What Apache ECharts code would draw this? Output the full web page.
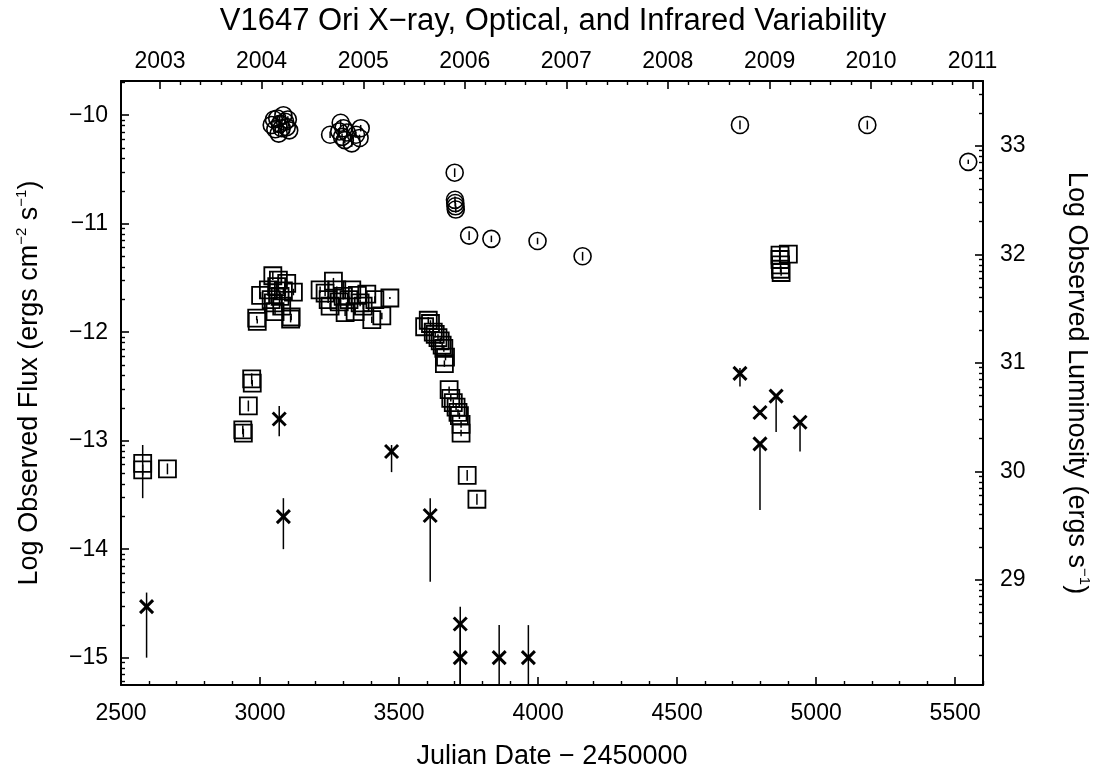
<!DOCTYPE html>
<html><head><meta charset="utf-8">
<script src="https://cdn.jsdelivr.net/npm/echarts@6/dist/echarts.min.js"></script>
<style>html,body{margin:0;padding:0;background:#fff}#c{width:1106px;height:778px}</style>
</head><body><div id="c"></div>
<script>
// ---------------- data ----------------
// Infrared (circles): JD-2450000, log flux, half error
const irJD   = [3042,3050,3055,3062,3067,3072,3078,3084,3090,3096,3100,3105,
                3252,3285,3290,3295,3300,3305,3312,3330,3345,3358,3362,
                3700,3701,3702,3703,3704,3752,3832,3998,4160,
                4726,5184,5547];
const irFlux = [-10.09,-10.04,-10.13,-10.03,-10.17,-10.08,-10.12,-10.00,-10.06,-10.11,-10.04,-10.14,
                -10.18,-10.15,-10.07,-10.20,-10.12,-10.23,-10.16,-10.26,-10.18,-10.21,-10.12,
                -10.53,-10.78,-10.81,-10.84,-10.87,-11.11,-11.14,-11.16,-11.30,
                -10.09,-10.09,-10.43];
const irErr  = [0.03,0.03,0.03,0.03,0.03,0.03,0.03,0.03,0.03,0.03,0.03,0.03,
                0.03,0.03,0.03,0.03,0.03,0.03,0.03,0.03,0.03,0.03,0.03,
                0.04,0.03,0.03,0.03,0.03,0.04,0.03,0.03,0.04,
                0.04,0.04,0.02];

// Optical (squares)
const optJD   = [2578,2578,2667,
                 2938,2940,2958,2970,2972,
                 2988,2990,3002,3030,3040,3046,3048,3054,3060,3066,3072,3078,3084,3096,3110,3112,3120,
                 3216,3234,3245,3252,3264,3276,3285,3299,3306,3320,3330,3342,3350,3360,3371,3384,3402,3413,3438,3467,
                 3592,3605,3613,3623,3630,3640,3648,3655,3661,3667,3663,
                 3680,3686,3695,3705,3712,3717,3723,3723,
                 3745,3780,
                 4870,4870,4872,4872,4874,4900];
const optFlux = [-13.21,-13.27,-13.26,
                 -12.90,-12.93,-12.68,-12.43,-12.47,
                 -11.87,-11.90,-11.66,-11.61,-11.70,-11.48,-11.73,-11.81,-11.58,-11.52,-11.67,-11.76,-11.62,-11.55,-11.88,-11.86,-11.63,
                 -11.61,-11.64,-11.70,-11.76,-11.53,-11.61,-11.72,-11.67,-11.82,-11.70,-11.61,-11.81,-11.66,-11.73,-11.76,-11.65,-11.885,-11.70,-11.85,-11.685,
                 -11.95,-11.89,-11.92,-12.00,-12.02,-12.05,-12.08,-12.12,-12.15,-12.23,-12.29,
                 -12.53,-12.61,-12.65,-12.69,-12.74,-12.77,-12.85,-12.93,
                 -13.32,-13.54,
                 -11.29,-11.33,-11.38,-11.42,-11.45,-11.28];
const optErrLo = [0.32,0.05,0.05,
                 0.04,0.04,0.05,0.05,0.03,
                 0.02,0.02,0.03,0.03,0.03,0.04,0.03,0.03,0.03,0.03,0.03,0.03,0.03,0.03,0.03,0.03,0.03,
                 0.03,0.03,0.03,0.03,0.03,0.03,0.03,0.03,0.03,0.03,0.03,0.03,0.03,0.03,0.03,0.03,0.03,0.03,0.03,0.01,
                 0.03,0.03,0.03,0.03,0.03,0.03,0.03,0.03,0.03,0.03,0.03,
                 0.03,0.03,0.03,0.03,0.03,0.03,0.03,0.03,
                 0.05,0.05,
                 0.03,0.03,0.03,0.03,0.03,0.03];
const optErrHi = [0.17,0.05,0.05,
                 0.04,0.04,0.05,0.05,0.03,
                 0.02,0.02,0.03,0.03,0.03,0.04,0.03,0.03,0.03,0.03,0.03,0.03,0.03,0.03,0.03,0.03,0.03,
                 0.03,0.03,0.03,0.03,0.03,0.03,0.03,0.03,0.03,0.03,0.03,0.03,0.03,0.03,0.03,0.03,0.03,0.03,0.03,0.01,
                 0.03,0.03,0.03,0.03,0.03,0.03,0.03,0.03,0.03,0.03,0.03,
                 0.03,0.03,0.03,0.03,0.03,0.03,0.03,0.03,
                 0.05,0.05,
                 0.03,0.03,0.03,0.03,0.03,0.03];

// X-ray (crosses): value, lower and upper end of the bar
const xrJD   = [2592,3069,3084,3473,3612,3720,3720,3860,3965,4726,4798,4798,4856,4942];
const xrFlux = [-14.53,-12.80,-13.70,-13.10,-13.69,-14.69,-15.00,-15.00,-15.00,-12.38,-12.74,-13.03,-12.59,-12.83];
const xrLo   = [-15.00,-12.96,-14.00,-13.29,-14.30,-15.30,-15.30,-15.30,-15.30,-12.50,-12.76,-13.64,-12.92,-13.10];
const xrHi   = [-14.40,-12.68,-13.53,-13.04,-13.53,-14.53,-14.70,-14.70,-14.70,-12.33,-12.72,-13.03,-12.59,-12.83];

// axes
const jdMin = 2500, jdMax = 5600;
const fluxMin = -15.252, fluxMax = -9.685;
const lumOffset = 43.282;            // log(4 pi d^2), d = 400 pc
const jdTicks   = [2500,3000,3500,4000,4500,5000,5500];
const fluxTicks = [-15,-14,-13,-12,-11,-10];
const lumTicks  = [29,30,31,32,33];
const yearLabels = ['2003','2004','2005','2006','2007','2008','2009','2010','2011'];
const yearJD     = [2640.5,3005.5,3371.5,3736.5,4101.5,4466.5,4832.5,5197.5,5562.5];

// ------------- minor tick positions -------------
const jdMinor = [];
for (let v = jdMin; v <= jdMax; v += 100) if (v % 500 !== 0) jdMinor.push(v);
const yearMinor = [];
for (let i = 0; i < yearJD.length - 1; i++) {
  for (let k = 1; k < 5; k++) yearMinor.push(yearJD[i] + (yearJD[i+1] - yearJD[i]) * k / 5);
}
function logMinor(lo, hi) {
  const out = [];
  for (let n = Math.floor(lo); n <= Math.ceil(hi) + 1; n++) {
    for (let k = 2; k <= 9; k++) {
      const v = n + Math.log10(k) - 1;
      if (v > lo && v < hi) out.push(v);
    }
  }
  return out;
}
const fluxMinor = logMinor(fluxMin, fluxMax);
const lumMinor  = logMinor(fluxMin + lumOffset, fluxMax + lumOffset);

const FONT = 'Liberation Sans, Arial, Helvetica, sans-serif';
const minus = v => (v < 0 ? '\u2212' + Math.abs(v) : String(v));
const plain = v => String(Math.round(v));

const irData  = irJD.map((x, i) => [x, irFlux[i], irFlux[i] - irErr[i], irFlux[i] + irErr[i]]);
const optData = optJD.map((x, i) => [x, optFlux[i], optFlux[i] - optErrLo[i], optFlux[i] + optErrHi[i]]);
const xrData  = xrJD.map((x, i) => [x, xrFlux[i], xrLo[i], xrHi[i]]);

function bar(api) {
  const x = api.value(0);
  const a = api.coord([x, api.value(2)]);
  const b = api.coord([x, api.value(3)]);
  return { type: 'line', shape: { x1: a[0], y1: a[1], x2: b[0], y2: b[1] },
           style: { stroke: '#000', lineWidth: 1.5 } };
}
function renderCircle(params, api) {
  const c = api.coord([api.value(0), api.value(1)]);
  return { type: 'group', children: [
    bar(api),
    { type: 'circle', shape: { cx: c[0], cy: c[1], r: 8.5 }, style: { fill: 'none', stroke: '#000', lineWidth: 1.6 } }
  ]};
}
function renderSquare(params, api) {
  const c = api.coord([api.value(0), api.value(1)]);
  return { type: 'group', children: [
    bar(api),
    { type: 'rect', shape: { x: c[0] - 8.5, y: c[1] - 8.5, width: 17, height: 17 }, style: { fill: 'none', stroke: '#000', lineWidth: 1.8 } }
  ]};
}
function renderCross(params, api) {
  const c = api.coord([api.value(0), api.value(1)]);
  const s = 6.5;
  return { type: 'group', children: [
    bar(api),
    { type: 'line', shape: { x1: c[0] - s, y1: c[1] - s, x2: c[0] + s, y2: c[1] + s }, style: { stroke: '#000', lineWidth: 3 } },
    { type: 'line', shape: { x1: c[0] - s, y1: c[1] + s, x2: c[0] + s, y2: c[1] - s }, style: { stroke: '#000', lineWidth: 3 } }
  ]};
}

const axisLineStyle = { show: true, onZero: false, lineStyle: { color: '#000', width: 2 } };
const noLine = { show: false, onZero: false };
const labelBase = { color: '#000', fontSize: 23, fontFamily: FONT };
const nameStyleBase = { color: '#000', fontSize: 27, fontFamily: FONT, lineHeight: 32,
  rich: { s: { fontSize: 15, lineHeight: 15, verticalAlign: 'top', color: '#000', fontFamily: FONT } } };

function majorTick(vals) { return { show: true, inside: true, length: 8, customValues: vals, lineStyle: { color: '#000', width: 1.6 } }; }
function minorTick(vals) { return { show: true, inside: true, length: 4, customValues: vals, lineStyle: { color: '#000', width: 1.4 } }; }

const chart = echarts.init(document.getElementById('c'), null, { renderer: 'canvas' });
chart.setOption({
  animation: false,
  backgroundColor: '#fff',
  title: {
    text: 'V1647 Ori X\u2212ray, Optical, and Infrared Variability',
    left: 'center', top: 1,
    textStyle: { color: '#000', fontSize: 31, fontWeight: 'normal', fontFamily: FONT }
  },
  grid: { left: 121, right: 123, top: 81, bottom: 93, outerBoundsMode: 'none' },
  xAxis: [
    { type: 'value', position: 'bottom', min: jdMin, max: jdMax,
      axisLine: axisLineStyle, axisTick: majorTick(jdTicks), splitLine: { show: false },
      axisLabel: Object.assign({ customValues: jdTicks, margin: 17, formatter: plain }, labelBase),
      name: 'Julian Date \u2212 2450000', nameLocation: 'middle', nameGap: 58,
      nameTextStyle: { color: '#000', fontSize: 27, fontFamily: FONT } },
    { type: 'value', position: 'bottom', min: jdMin, max: jdMax,
      axisLine: noLine, axisTick: minorTick(jdMinor), axisLabel: { show: false }, splitLine: { show: false } },
    { type: 'value', position: 'top', min: jdMin, max: jdMax,
      axisLine: axisLineStyle, axisTick: majorTick(yearJD), splitLine: { show: false },
      axisLabel: Object.assign({ customValues: yearJD, margin: 8,
        formatter: v => { for (let i = 0; i < yearJD.length; i++) if (Math.abs(yearJD[i] - v) < 1) return yearLabels[i]; return ''; } }, labelBase) },
    { type: 'value', position: 'top', min: jdMin, max: jdMax,
      axisLine: noLine, axisTick: minorTick(yearMinor), axisLabel: { show: false }, splitLine: { show: false } }
  ],
  yAxis: [
    { type: 'value', position: 'left', min: fluxMin, max: fluxMax,
      axisLine: axisLineStyle, axisTick: majorTick(fluxTicks), splitLine: { show: false },
      axisLabel: Object.assign({ customValues: fluxTicks, margin: 13, formatter: minus }, labelBase),
      name: 'Log Observed Flux (ergs cm{s|\u22122} s{s|\u22121})', nameLocation: 'middle', nameGap: 75, nameRotate: 90,
      nameTextStyle: nameStyleBase },
    { type: 'value', position: 'left', min: fluxMin, max: fluxMax,
      axisLine: noLine, axisTick: minorTick(fluxMinor), axisLabel: { show: false }, splitLine: { show: false } },
    { type: 'value', position: 'right', min: fluxMin + lumOffset, max: fluxMax + lumOffset,
      axisLine: axisLineStyle, axisTick: majorTick(lumTicks), splitLine: { show: false },
      axisLabel: Object.assign({ customValues: lumTicks, margin: 17, formatter: plain }, labelBase),
      name: 'Log Observed Luminosity (ergs s{s|\u22121})', nameLocation: 'middle', nameGap: 77, nameRotate: -90,
      nameTextStyle: nameStyleBase },
    { type: 'value', position: 'right', min: fluxMin + lumOffset, max: fluxMax + lumOffset,
      axisLine: noLine, axisTick: minorTick(lumMinor), axisLabel: { show: false }, splitLine: { show: false } }
  ],
  series: [
    { name: 'Optical', type: 'custom', xAxisIndex: 0, yAxisIndex: 0, clip: true, renderItem: renderSquare, data: optData },
    { name: 'Infrared', type: 'custom', xAxisIndex: 0, yAxisIndex: 0, clip: true, renderItem: renderCircle, data: irData },
    { name: 'X-ray', type: 'custom', xAxisIndex: 0, yAxisIndex: 0, clip: true, renderItem: renderCross, data: xrData }
  ]
});
</script></body></html>
